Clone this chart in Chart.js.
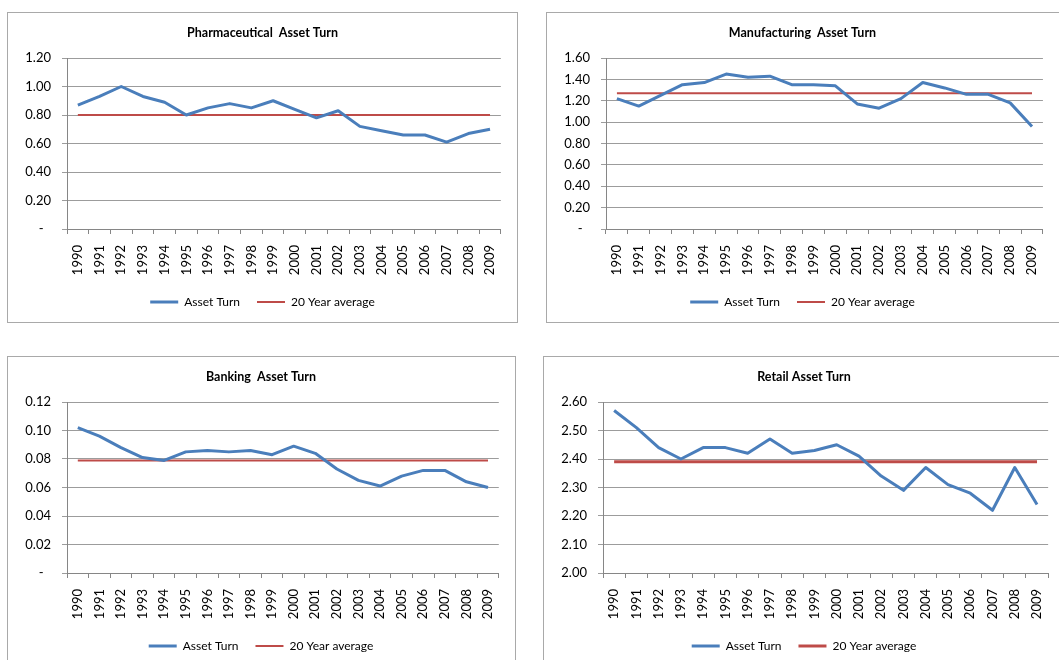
<!DOCTYPE html>
<html>
<head>
<meta charset="utf-8">
<script src="https://cdn.jsdelivr.net/npm/chart.js@4/dist/chart.umd.min.js"></script>
<style>
  html, body { margin: 0; padding: 0; background: #fff; }
  body { width: 1059px; height: 660px; overflow: hidden; position: relative; }
  .panel { position: absolute; box-sizing: border-box; border: 1px solid #a9a9a9; background: #fff; }
  .panel canvas { position: absolute; left: 0; top: 0; }
</style>
</head>
<body>
<div class="panel" style="left:7px;top:12px;width:511px;height:311px;"><canvas id="pharma" width="509" height="309"></canvas></div>
<div class="panel" style="left:546px;top:12px;width:514px;height:311px;"><canvas id="manufacturing" width="512" height="309"></canvas></div>
<div class="panel" style="left:7px;top:356px;width:509px;height:311px;"><canvas id="banking" width="507" height="309"></canvas></div>
<div class="panel" style="left:543px;top:356px;width:522px;height:311px;"><canvas id="retail" width="520" height="309"></canvas></div>
<script>
// Fiscal years shown on every panel
const years = ['1990','1991','1992','1993','1994','1995','1996','1997','1998','1999',
               '2000','2001','2002','2003','2004','2005','2006','2007','2008','2009'];

// Asset turn by sector, one value per year
const pharmaTurn = [0.87, 0.93, 1.00, 0.93, 0.89, 0.80, 0.85, 0.88, 0.85, 0.90,
                    0.84, 0.78, 0.83, 0.72, 0.69, 0.66, 0.66, 0.61, 0.67, 0.70];
const manufacturingTurn = [1.22, 1.15, 1.25, 1.35, 1.37, 1.45, 1.42, 1.43, 1.35, 1.35,
                           1.34, 1.17, 1.13, 1.22, 1.37, 1.32, 1.26, 1.26, 1.18, 0.96];
const bankingTurn = [0.102, 0.096, 0.088, 0.081, 0.079, 0.085, 0.086, 0.085, 0.086, 0.083,
                     0.089, 0.084, 0.073, 0.065, 0.061, 0.068, 0.072, 0.072, 0.064, 0.060];
const retailTurn = [2.57, 2.51, 2.44, 2.40, 2.44, 2.44, 2.42, 2.47, 2.42, 2.43,
                    2.45, 2.41, 2.34, 2.29, 2.37, 2.31, 2.28, 2.22, 2.37, 2.24];

// 20 year averages
const pharmaAvg = 0.80;
const manufacturingAvg = 1.27;
const bankingAvg = 0.079;
const retailAvg = 2.39;

const FONT = 'Lato, "Open Sans", "DejaVu Sans", sans-serif';
const AXIS_GREY = '#868686';
const GRID_GREY = '#9c9c9c';

Chart.defaults.font.family = FONT;
Chart.defaults.color = '#000';

function makePanel(id, title, turn, avg, yMin, yMax, step, avgWidth, padRight) {
  const avgLine = years.map(() => avg);
  new Chart(document.getElementById(id), {
    type: 'line',
    data: {
      labels: years,
      datasets: [
        { label: 'Asset Turn', data: turn, borderColor: '#4a7ebb', backgroundColor: '#4a7ebb',
          borderWidth: 3, pointRadius: 0, tension: 0, borderJoinStyle: 'round' },
        { label: '20 Year average', data: avgLine, borderColor: '#be4b48', backgroundColor: '#be4b48',
          borderWidth: avgWidth, pointRadius: 0, tension: 0 }
      ]
    },
    options: {
      responsive: false,
      animation: false,
      devicePixelRatio: 1,
      layout: { autoPadding: false, padding: { left: 15, right: padRight, top: 0, bottom: 4 } },
      plugins: {
        title: { display: true, text: title, font: { size: 12.5, weight: 'bold' },
                 padding: { top: 12.5, bottom: 17.5 }, color: '#000' },
        legend: {
          position: 'bottom',
          labels: { font: { size: 12 }, color: '#000', usePointStyle: true, pointStyle: 'line',
                    pointStyleWidth: 28, padding: 17 }
        },
        tooltip: { enabled: false }
      },
      scales: {
        x: {
          offset: true,
          grid: { offset: true, drawOnChartArea: false, drawTicks: true, tickLength: 5, color: AXIS_GREY },
          border: { color: AXIS_GREY, width: 1 },
          ticks: { autoSkip: false, minRotation: 90, maxRotation: 90, padding: 11,
                   font: { size: 13 }, color: '#000' },
          afterFit(s) { s.height = 50; }
        },
        y: {
          min: yMin, max: yMax,
          grid: { color: GRID_GREY, tickLength: 5, drawTicks: true },
          border: { color: AXIS_GREY, width: 1 },
          ticks: {
            stepSize: step, padding: 11, font: { size: 13 }, color: '#000',
            callback(v) { return Math.abs(v) < 1e-9 ? '-\u2007' : Number(v).toFixed(2); }
          },
          afterFit(s) { s.width = 44; }
        }
      }
    }
  });
}

makePanel('pharma', 'Pharmaceutical  Asset Turn', pharmaTurn, pharmaAvg, 0, 1.2, 0.2, 2, 15);
makePanel('manufacturing', 'Manufacturing  Asset Turn', manufacturingTurn, manufacturingAvg, 0, 1.6, 0.2, 2, 16);
makePanel('banking', 'Banking  Asset Turn', bankingTurn, bankingAvg, 0, 0.12, 0.02, 2, 16);
makePanel('retail', 'Retail Asset Turn', retailTurn, retailAvg, 2.0, 2.6, 0.1, 3, 15);
</script>
</body>
</html>
